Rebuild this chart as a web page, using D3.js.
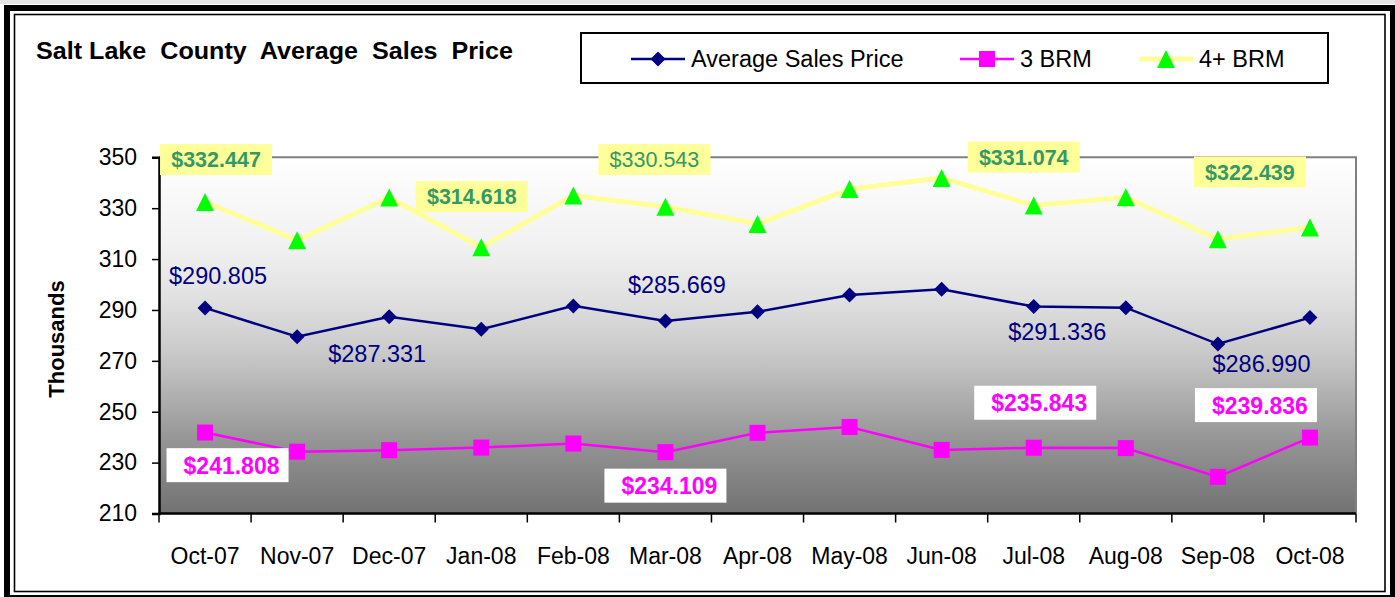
<!DOCTYPE html>
<html>
<head>
<meta charset="utf-8">
<script src="https://cdn.jsdelivr.net/npm/d3@7"></script>
<style>
  html, body { margin: 0; padding: 0; background: #ffffff; }
  svg { display: block; font-family: Arial, "Liberation Sans", sans-serif; }
</style>
</head>
<body>
<svg id="chart" width="1395" height="597"></svg>
<script>
// ---------------- data ----------------
const months = ["Oct-07","Nov-07","Dec-07","Jan-08","Feb-08","Mar-08","Apr-08","May-08","Jun-08","Jul-08","Aug-08","Sep-08","Oct-08"];
const avgPrice = [290.805, 279.5, 287.331, 282.4, 291.6, 285.669, 289.3, 295.9, 298.1, 291.336, 290.9, 276.6, 286.990];
const brm3     = [241.808, 234.3, 234.9, 235.9, 237.5, 234.109, 241.7, 244.0, 235.0, 235.843, 235.7, 224.4, 239.836];
const brm4     = [332.447, 317.4, 334.2, 314.618, 335.0, 330.543, 323.8, 337.5, 341.9, 331.074, 334.3, 317.8, 322.439];
const yTicks   = [210, 230, 250, 270, 290, 310, 330, 350];
const seriesNames = ["Average Sales Price", "3 BRM", "4+ BRM"];
const titleText = "Salt Lake  County  Average  Sales  Price";
const yTitle = "Thousands";

// label placement (layout only): index of point, offsets from the point
const avgLabels  = [{i:0,dx:13,dy:-24},{i:2,dx:-12,dy:45},{i:5,dx:11.5,dy:-28},{i:9,dx:23.5,dy:33.5},{i:12,dx:-48.5,dy:54.5}];
const brm4Labels = [{i:0,dx:11,dy:-42.4,bold:true},{i:3,dx:-9.5,dy:-50.8,bold:true},{i:5,dx:-11,dy:-47.3,bold:false},{i:9,dx:-10,dy:-48.4,bold:true},{i:12,dx:-60,dy:-55.4,bold:true}];
const brm3Labels = [{i:0,dx:22.5,dy:32.6},{i:5,dx:0,dy:33.5},{i:9,dx:1.5,dy:-45},{i:12,dx:-54,dy:-32.5}];

// ---------------- layout ----------------
const svg = d3.select("#chart");
const plot = {left:159, right:1356, top:157.3, bottom:513.5};
const C = {navy:"#000080", magenta:"#ff00ff", yellow:"#ffff99", green:"#00ff00", labelGreen:"#339966"};

const x = d3.scaleBand().domain(months).range([plot.left, plot.right]);
const y = d3.scaleLinear().domain([210, 350]).range([plot.bottom, plot.top]);
const cx = m => x(m) + x.bandwidth()/2;

// frame
svg.append("rect").attr("x",0).attr("y",0).attr("width",1395).attr("height",4).attr("fill","#e4e4e4");
svg.append("rect").attr("x",7).attr("y",8).attr("width",1386).attr("height",590)
  .attr("fill","none").attr("stroke","#000").attr("stroke-width",6);
svg.append("rect").attr("x",14.5).attr("y",14.5).attr("width",1370.5).attr("height",577)
  .attr("fill","none").attr("stroke","#000").attr("stroke-width",1.6);

// gradient
const defs = svg.append("defs");
const grad = defs.append("linearGradient").attr("id","bg").attr("x1",0).attr("y1",0).attr("x2",0).attr("y2",1);
[[0,"#ffffff"],[0.25,"#f1f1f1"],[0.4,"#e0e0e0"],[0.55,"#c9c9c9"],[0.65,"#b4b4b4"],[0.8,"#949494"],[1,"#727272"]]
  .forEach(([o,c]) => grad.append("stop").attr("offset",o).attr("stop-color",c));

svg.append("rect").attr("x",plot.left).attr("y",plot.top)
  .attr("width",plot.right-plot.left).attr("height",plot.bottom-plot.top).attr("fill","url(#bg)");
// top & right border (gray)
svg.append("path").attr("d",`M${plot.left},${plot.top}H${plot.right}V${plot.bottom}`)
  .attr("fill","none").attr("stroke","#808080").attr("stroke-width",2);

// y axis
const yAxis = d3.axisLeft(y).tickValues(yTicks).tickSize(7).tickPadding(15).tickFormat(d3.format("d"));
const gy = svg.append("g").attr("transform",`translate(${plot.left},0)`).call(yAxis);
gy.select(".domain").attr("stroke","#000").attr("stroke-width",2.5);
gy.selectAll(".tick line").attr("stroke","#000").attr("stroke-width",1.5);
gy.selectAll(".tick text").attr("font-size",23).attr("fill","#000").attr("font-family","Arial, 'Liberation Sans', sans-serif");

// x axis: ticks at category boundaries
const gx = svg.append("g").attr("transform",`translate(0,${plot.bottom})`);
gx.append("line").attr("x1",plot.left).attr("x2",plot.right).attr("stroke","#000").attr("stroke-width",2.5);
const bounds = months.map(m => x(m)).concat([plot.right]);
gx.selectAll("line.tk").data(bounds).enter().append("line").attr("class","tk")
  .attr("x1",d=>d).attr("x2",d=>d).attr("y1",0).attr("y2",9).attr("stroke","#000").attr("stroke-width",1.5);
gx.selectAll("text").data(months).enter().append("text")
  .attr("x",d=>cx(d)).attr("y",50).attr("text-anchor","middle")
  .attr("font-size",23).attr("fill","#000").text(d=>d);

// y title
svg.append("text").attr("transform","translate(64,339) rotate(-90)").attr("text-anchor","middle")
  .attr("font-size",22).attr("font-weight","bold").text(yTitle);

// title
svg.append("text").attr("x",36).attr("y",59).attr("font-size",24.5).attr("font-weight","bold")
  .style("white-space","pre")
  .attr("textLength",477).attr("lengthAdjust","spacingAndGlyphs").text(titleText);

// lines
const line = d3.line().x((d,i)=>cx(months[i])).y(d=>y(d));
svg.append("path").datum(brm4).attr("d",line).attr("fill","none").attr("stroke",C.yellow).attr("stroke-width",5);
svg.append("path").datum(avgPrice).attr("d",line).attr("fill","none").attr("stroke",C.navy).attr("stroke-width",2.5);
svg.append("path").datum(brm3).attr("d",line).attr("fill","none").attr("stroke",C.magenta).attr("stroke-width",2.5);

// markers
const diamond = (px,py,s) => `M${px},${py-s}L${px+s},${py}L${px},${py+s}L${px-s},${py}Z`;
const tri = (px,py,w,h) => `M${px},${py-h/2}L${px+w/2},${py+h/2}L${px-w/2},${py+h/2}Z`;
svg.append("g").selectAll("path").data(avgPrice).enter().append("path")
  .attr("d",(d,i)=>diamond(cx(months[i]),y(d),7.5)).attr("fill",C.navy);
svg.append("g").selectAll("rect").data(brm3).enter().append("rect")
  .attr("x",(d,i)=>cx(months[i])-8).attr("y",d=>y(d)-8).attr("width",16).attr("height",16).attr("fill",C.magenta);
svg.append("g").selectAll("path").data(brm4).enter().append("path")
  .attr("d",(d,i)=>tri(cx(months[i]),y(d),18,18)).attr("fill",C.green);

// data labels
const fmt = v => "$" + v.toFixed(3);
// avg labels: plain navy text
avgLabels.forEach(l => {
  svg.append("text").attr("x",cx(months[l.i])+l.dx).attr("y",y(avgPrice[l.i])+l.dy)
    .attr("text-anchor","middle").attr("font-size",23.5).attr("fill",C.navy).text(fmt(avgPrice[l.i]));
});
// 4+ labels: yellow boxes
brm4Labels.forEach(l => {
  const bx = cx(months[l.i])+l.dx, by = y(brm4[l.i])+l.dy;
  svg.append("rect").attr("x",bx-56).attr("y",by-15.5).attr("width",112).attr("height",31).attr("fill",C.yellow);
  svg.append("text").attr("x",bx).attr("y",by+7.5).attr("text-anchor","middle")
    .attr("font-size",21.5).attr("font-weight",l.bold?"bold":"normal").attr("fill",C.labelGreen).text(fmt(brm4[l.i]));
});
// 3 BRM labels: white boxes
brm3Labels.forEach(l => {
  const bx = cx(months[l.i])+l.dx, by = y(brm3[l.i])+l.dy;
  svg.append("rect").attr("x",bx-61).attr("y",by-17).attr("width",122).attr("height",34).attr("fill","#fff");
  svg.append("text").attr("x",bx+4).attr("y",by+8.5).attr("text-anchor","middle")
    .attr("font-size",23).attr("font-weight","bold").attr("fill",C.magenta).text(fmt(brm3[l.i]));
});

// legend
const lg = svg.append("g");
lg.append("rect").attr("x",581).attr("y",33).attr("width",747).attr("height",50)
  .attr("fill","#fff").attr("stroke","#000").attr("stroke-width",2);
const legendItems = [
  {name:seriesNames[0], x0:631, color:C.navy, w:2.5, mk:"d"},
  {name:seriesNames[1], x0:960, color:C.magenta, w:2.5, mk:"s"},
  {name:seriesNames[2], x0:1139, color:C.yellow, w:5, mk:"t"}
];
const ly = 59;
legendItems.forEach(it => {
  lg.append("line").attr("x1",it.x0).attr("x2",it.x0+54).attr("y1",ly).attr("y2",ly).attr("stroke",it.color).attr("stroke-width",it.w);
  const mx = it.x0+27;
  if (it.mk==="d") lg.append("path").attr("d",diamond(mx,ly,7.5)).attr("fill",C.navy);
  if (it.mk==="s") lg.append("rect").attr("x",mx-8).attr("y",ly-8).attr("width",16).attr("height",16).attr("fill",C.magenta);
  if (it.mk==="t") lg.append("path").attr("d",tri(mx,ly,18,18)).attr("fill",C.green);
  lg.append("text").attr("x",it.x0+60).attr("y",ly+8).attr("font-size",23.5).attr("fill","#000").text(it.name);
});
</script>
</body>
</html>
